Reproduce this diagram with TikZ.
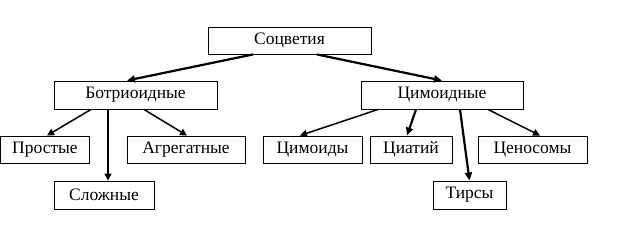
\documentclass[tikz,border=0pt]{standalone}
\usepackage{fontspec}
\setmainfont{Liberation Serif}
\usetikzlibrary{arrows.meta}
\begin{document}
\begin{tikzpicture}[x=1pt,y=-1pt,
  box/.style={draw,line width=0.9pt,minimum height=27pt,inner sep=0pt,font=\fontsize{17.5}{18}\selectfont},
  conn/.style={line width=1.5pt,-{Triangle[length=7pt,width=7pt]}},
  thick conn/.style={line width=2.2pt,-{Triangle[length=8pt,width=7pt]}}]
\useasboundingbox (0,0) rectangle (619,245);
\node[box,minimum width=163pt] (soc) at (289.5,40.5) {Соцветия};
\node[box,minimum width=163pt,minimum height=28pt] (bot) at (135.5,95) {Ботриоидные};
\node[box,minimum width=162pt,minimum height=28pt] (cim) at (442,95) {Цимоидные};
\node[box,minimum width=89pt] (pro) at (45,149.5) {Простые};
\node[box,minimum width=118pt] (agr) at (186,149.5) {Агрегатные};
\node[box,minimum width=99pt] (cmd) at (312.5,149.5) {Цимоиды};
\node[box,minimum width=82pt] (cia) at (411,149.5) {Циатий};
\node[box,minimum width=109pt] (cen) at (532.5,149.5) {Ценосомы};
\node[box,minimum width=100pt,minimum height=28pt] (slo) at (104,195) {Сложные};
\node[box,minimum width=73pt,minimum height=28pt] (tir) at (469.5,195) {Тирсы};
\draw[thick conn] ([xshift=-36.5pt]soc.south) -- ([xshift=-8.5pt]bot.north);
\draw[thick conn] ([xshift=27.5pt]soc.south) -- (cim.north);
\draw[conn] ([xshift=-44.5pt]bot.south) -- ([xshift=2pt]pro.north);
\draw[conn] ([xshift=-27.5pt]bot.south) -- ([xshift=4pt]slo.north);
\draw[conn] ([xshift=8.5pt]bot.south) -- ([xshift=1pt]agr.north);
\draw[conn] ([xshift=-64pt]cim.south) -- ([xshift=-12.5pt]cmd.north);
\draw[thick conn] ([xshift=-26pt]cim.south) -- ([xshift=-4pt]cia.north);
\draw[thick conn] ([xshift=18pt]cim.south) -- (tir.north);
\draw[conn] ([xshift=46pt]cim.south) -- ([xshift=7.5pt]cen.north);
\end{tikzpicture}
\end{document}
